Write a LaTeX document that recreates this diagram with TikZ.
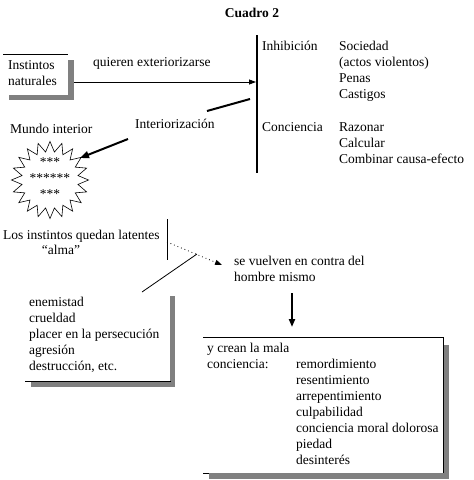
\documentclass[tikz,border=0pt]{standalone}
\usepackage{fontspec}
\setmainfont{Liberation Serif}
\usetikzlibrary{arrows.meta,shapes.geometric}
\newcommand\myfs{\fontsize{13.5}{16}\selectfont}
\begin{document}
\begin{tikzpicture}[x=1pt,y=-1pt,
  txt/.style={anchor=north west,inner sep=0pt,align=left,font=\myfs},
  shade/.style={fill=black!50,draw=none},
  thinline/.style={line width=0.8pt},
  thickline/.style={line width=2pt},
  tip/.style={-{Triangle[length=7pt,width=5pt]}}]
\useasboundingbox[fill=white] (0,0) rectangle (474,480);

% title
\node[anchor=base,inner sep=0pt,font=\myfs\bfseries] (title) at (252,17) {Cuadro 2};

% Instintos naturales box
\fill[shade] (68,60) rectangle (74,100);
\fill[shade] (9,95) rectangle (74,100);
\draw[thinline] (3,54) -- (68,54);
\node[txt] (inst) at (8,58) {\strut Instintos\\naturales};
\coordinate (instout) at (74,82);

\node[txt] (quieren) at (93,55) {\strut quieren exteriorizarse};

% vertical bar
\coordinate (vt) at (257,35);
\coordinate (vb) at (257,173);
\draw[line width=2.4pt] (vt) -- (vb);
\coordinate (vin) at (256,82);
\draw[thinline,tip] (instout) -- (vin);

\node[txt] (inhib) at (262,39) {\strut Inhibición};
\node[txt] (soc) at (339,39) {\strut Sociedad\\(actos violentos)\\Penas\\Castigos};
\node[txt] (conc) at (262,120) {\strut Conciencia};
\node[txt] (raz) at (339,120) {\strut Razonar\\Calcular\\Combinar causa-efecto};

% Interiorizacion
\coordinate (ia) at (250,99);
\coordinate (ib) at (207,111);
\draw[thickline] (ia) -- (ib);
\node[txt] (interior) at (135,117) {\strut Interiorización};
\coordinate (ic) at (128,139);
\coordinate (id) at (80,158);
\draw[thickline,-{Triangle[length=9pt,width=7pt]}] (ic) -- (id);

% Mundo interior
\node[txt] (mundo) at (10,122) {\strut Mundo interior};
\node[star,star points=20,star point ratio=1.36,minimum size=77pt,draw,line width=0.6pt,inner sep=0pt] (star) at (50,180) {};
\node[anchor=north,inner sep=0pt,align=center,font=\myfs] (ast) at (50,155) {\strut ***\\******\\***};

% instintos latentes
\node[txt] (los) at (3,228) {\strut Los instintos quedan latentes};
\node[anchor=north,inner sep=0pt,font=\myfs] (alma) at (61,243) {\strut “alma”};
\coordinate (lt) at (167,219);
\coordinate (lb) at (167,260);
\draw[thinline] (lt) -- (lb);
\coordinate (dl) at (167,242);
\coordinate (dr) at (222,265);
\draw[thinline,dash pattern=on 0.8pt off 3pt,-{Triangle[length=7pt,width=5pt]}] (dl) -- (dr);
\coordinate (sa) at (197,254);
\coordinate (sb) at (142,292);
\draw[thinline] (sa) -- (sb);

\node[txt] (vuelven) at (234,254) {\strut se vuelven en contra del\\hombre mismo};
\coordinate (da) at (292,293);
\coordinate (db) at (292,327);
\draw[thickline,-{Triangle[length=8pt,width=6pt]}] (da) -- (db);

% enemistad box
\fill[shade] (170,296) rectangle (175,387);
\fill[shade] (31,382) rectangle (175,387);
\draw[thinline] (25,381) -- (171,381);
\node[txt] (enem) at (29,295) {\strut enemistad\\crueldad\\placer en la persecución\\agresión\\destrucción, etc.};

% mala conciencia box
\fill[shade] (443,345) rectangle (449,479);
\fill[shade] (209,473) rectangle (449,479);
\draw[thinline] (203,473) -- (209,473);
\draw[thinline] (203,337) -- (443,337) -- (443,473);
\node[txt] (ycrean) at (207,341) {\strut y crean la mala\\conciencia:};
\node[txt] (remord) at (296,357) {\strut remordimiento\\resentimiento\\arrepentimiento\\culpabilidad\\conciencia moral dolorosa\\piedad\\desinterés};
\end{tikzpicture}
\end{document}
